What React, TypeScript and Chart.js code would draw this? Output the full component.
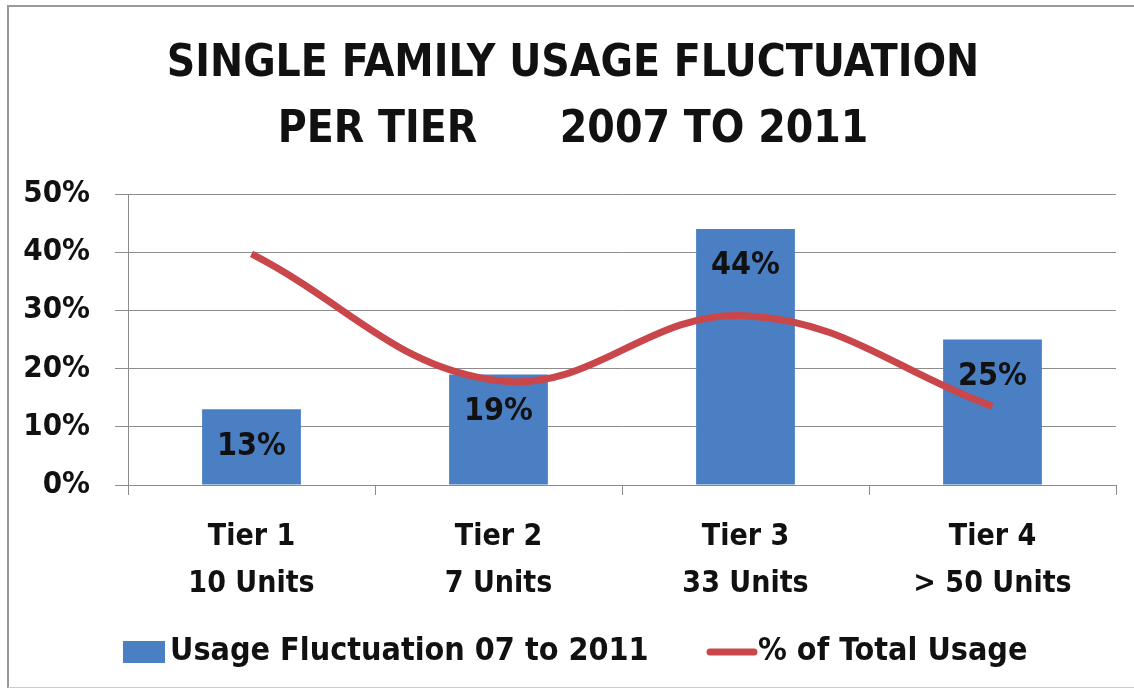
import React, { useEffect, useRef } from "react";
import { Chart, registerables } from "chart.js";

Chart.register(...registerables);

const titleLines = ["SINGLE FAMILY USAGE FLUCTUATION", "PER TIER      2007 TO 2011"];
const categories = [
  ["Tier 1", "10 Units"],
  ["Tier 2", "7 Units"],
  ["Tier 3", "33 Units"],
  ["Tier 4", "> 50 Units"],
];
const fluctuationLabel = "Usage Fluctuation 07 to 2011";
const fluctuation = [13, 19, 44, 25];
const fluctuationText = ["13%", "19%", "44%", "25%"];
const totalLabel = "% of Total Usage";
const totalUsage = [39.7, 17.9, 29.1, 13.5];
const yMax = 50;
const yStep = 10;

const FONT = "'Liberation Sans Narrow', 'DejaVu Sans Condensed', 'Liberation Sans', sans-serif";
const BAR_COLOR = "#4B7FC3";
const LINE_COLOR = "#C9474B";

const titlePlugin = {
  id: "customTitle",
  afterDraw(chart: any) {
    const ctx = chart.ctx;
    ctx.save();
    ctx.font = `bold 44px ${FONT}`;
    ctx.fillStyle = "#111";
    ctx.textAlign = "center";
    ctx.textBaseline = "middle";
    titleLines.forEach((line, i) => {
      ctx.fillText(line, 573, 65 + i * 66);
    });
    ctx.restore();
  },
};

const barLabelPlugin = {
  id: "barLabels",
  afterDatasetsDraw(chart: any) {
    const ctx = chart.ctx;
    const meta = chart.getDatasetMeta(0);
    ctx.save();
    ctx.font = `bold 32px ${FONT}`;
    ctx.fillStyle = "#111";
    ctx.textAlign = "center";
    ctx.textBaseline = "middle";
    meta.data.forEach((el: any, i: number) => {
      ctx.fillText(fluctuationText[i], el.x, el.y + 37);
    });
    ctx.restore();
  },
};

const legendPlugin = {
  id: "customLegend",
  afterDraw(chart: any) {
    const ctx = chart.ctx;
    const y = 652;
    ctx.save();
    ctx.font = `bold 32px ${FONT}`;
    ctx.textBaseline = "middle";
    ctx.textAlign = "left";
    ctx.fillStyle = BAR_COLOR;
    ctx.fillRect(123, y - 11, 42, 22);
    ctx.fillStyle = "#111";
    ctx.fillText(chart.data.datasets[0].label, 170, y);
    ctx.strokeStyle = LINE_COLOR;
    ctx.lineWidth = 7;
    ctx.lineCap = "round";
    ctx.beginPath();
    ctx.moveTo(710, y);
    ctx.lineTo(754, y);
    ctx.stroke();
    ctx.fillText(chart.data.datasets[1].label, 758, y);
    ctx.restore();
  },
};

export default function App() {
  const ref = useRef<HTMLCanvasElement | null>(null);

  useEffect(() => {
    if (!ref.current) return;
    const chart = new Chart(ref.current, {
      type: "bar",
      data: {
        labels: categories,
        datasets: [
          {
            type: "bar",
            label: fluctuationLabel,
            data: fluctuation,
            backgroundColor: BAR_COLOR,
            barPercentage: 0.8,
            categoryPercentage: 0.5,
            order: 2,
          },
          {
            type: "line",
            label: totalLabel,
            data: totalUsage,
            borderColor: LINE_COLOR,
            borderWidth: 7,
            tension: 0.4,
            pointRadius: 0,
            fill: false,
            order: 1,
          } as any,
        ],
      },
      options: {
        responsive: false,
        animation: false,
        devicePixelRatio: 1,
        layout: { padding: { left: 0, right: 18, top: 194, bottom: 72 } },
        plugins: {
          legend: { display: false },
          tooltip: { enabled: false },
          title: { display: false },
        },
        scales: {
          x: {
            grid: {
              display: true,
              drawOnChartArea: false,
              drawTicks: true,
              tickLength: 10,
              color: "#8c8c8c",
              offset: true,
            },
            border: { display: true, color: "#8c8c8c" },
            ticks: {
              color: "#111",
              font: { family: FONT, size: 30, weight: "bold", lineHeight: 1.55 },
              padding: 19,
              maxRotation: 0,
            },
            afterFit(scale: any) {
              scale.height = 135;
            },
          },
          y: {
            min: 0,
            max: yMax,
            grid: { color: "#8c8c8c", tickLength: 13 },
            border: { display: true, color: "#8c8c8c" },
            ticks: {
              stepSize: yStep,
              color: "#111",
              font: { family: FONT, size: 31, weight: "bold" },
              padding: 25,
              callback: (v: any) => `${v}%`,
            },
            afterFit(scale: any) {
              scale.width = 128;
            },
          },
        },
      },
      plugins: [titlePlugin, barLabelPlugin, legendPlugin],
    });
    return () => chart.destroy();
  }, []);

  return (
    <div
      style={{
        position: "fixed",
        left: 0,
        top: 0,
        width: 1134,
        height: 692,
        background: "#fff",
      }}
    >
      <div
        style={{
          position: "absolute",
          left: 7,
          top: 5,
          width: 1127,
          height: 683,
          borderLeft: "2px solid #999",
          borderTop: "2px solid #999",
          borderBottom: "1px solid #ccc",
          boxSizing: "border-box",
        }}
      />
      <canvas ref={ref} width={1134} height={692} style={{ position: "absolute", left: 0, top: 0 }} />
    </div>
  );
}
